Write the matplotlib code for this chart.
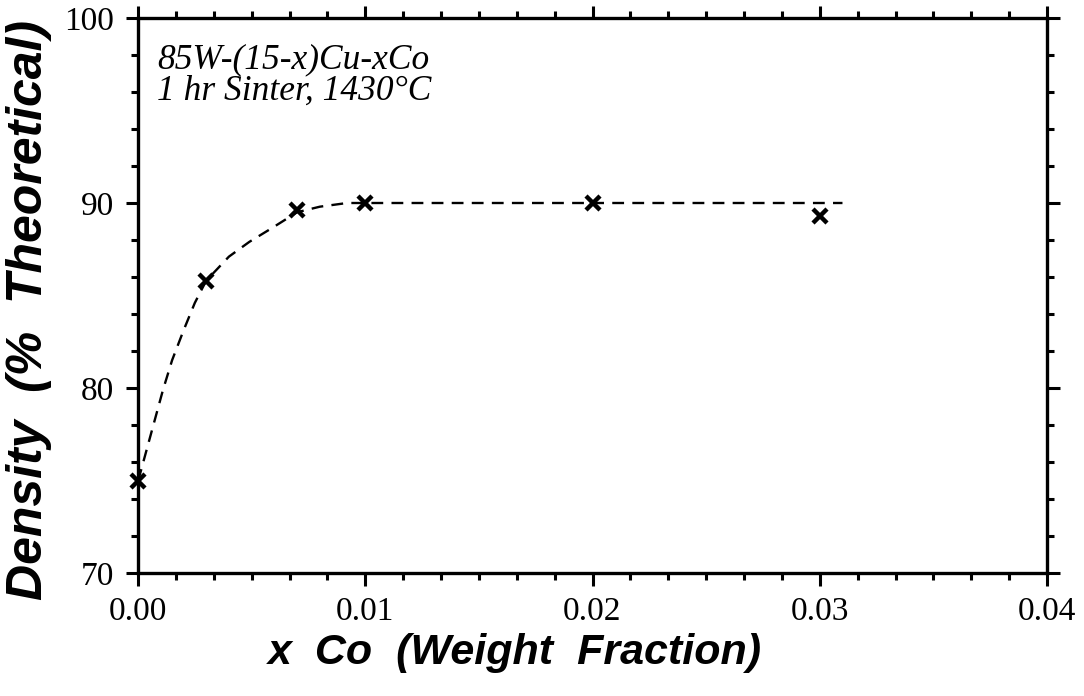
import matplotlib
matplotlib.use('Agg')
from matplotlib import pyplot as plt
from matplotlib.ticker import MultipleLocator
import numpy as np

# measured points
co_frac = [0.0, 0.003, 0.007, 0.010, 0.020, 0.030]
density = [75.0, 85.8, 89.6, 90.0, 90.0, 89.3]

# dashed guide curve
curve_x = [0.0, 0.0001, 0.0005, 0.0011, 0.0015, 0.0020, 0.0025, 0.0030, 0.0040,
           0.0049, 0.0059, 0.0070, 0.0080, 0.0092, 0.0100, 0.0200, 0.0310]
curve_y = [75.0, 75.4, 77.2, 79.9, 81.5, 83.1, 84.6, 85.8, 87.1,
           87.9, 88.65, 89.5, 89.8, 90.0, 90.0, 90.0, 90.0]

xticks = [0.0, 0.01, 0.02, 0.03, 0.04]
xticklabels = ['0.00', '0.01', '0.02', '0.03', '0.04']
yticks = [70, 80, 90, 100]

serif = ['Liberation Serif', 'DejaVu Serif']
sans = ['Liberation Sans', 'DejaVu Sans']

fig = plt.figure(figsize=(10.84, 6.96), dpi=100)
ax = fig.add_axes([138 / 1084, 1 - 573 / 696, (1047 - 138) / 1084, (573 - 18) / 696])

ax.plot(curve_x, curve_y, color='black', linestyle=(0, (5, 3.5)), linewidth=1.7)
ax.plot(co_frac, density, linestyle='none', marker='x', color='black',
        markersize=10.5, markeredgewidth=3.2, clip_on=False)

ax.set_xlim(0, 0.04)
ax.set_ylim(70, 100)
ax.set_xticks(xticks)
ax.set_xticklabels(xticklabels, family=serif, fontsize=24)
ax.set_yticks(yticks)
ax.set_yticklabels([str(v) for v in yticks], family=serif, fontsize=24)
ax.xaxis.set_minor_locator(MultipleLocator(0.01 / 6))
ax.yaxis.set_minor_locator(MultipleLocator(2))

ax.tick_params(which='both', direction='out', top=True, right=True,
               labeltop=False, labelright=False, width=2.2, color='black')
ax.tick_params(which='major', length=9, pad=8)
ax.tick_params(which='minor', length=5)
for s in ax.spines.values():
    s.set_linewidth(2.4)

ax.set_xlabel('x  Co  (Weight  Fraction)', family=sans, fontsize=31,
              fontweight='bold', fontstyle='italic')
ax.xaxis.set_label_coords((515 - 138) / 909, -0.108)
ax.set_ylabel('Density  (%  Theoretical)', family=sans, fontsize=36,
              fontweight='bold', fontstyle='italic')
ax.yaxis.set_label_coords(-0.0946, 0.474)

ax.text(0.021, 0.955, '85W-(15-x)Cu-xCo\n1 hr Sinter, 1430\u00b0C',
        transform=ax.transAxes, ha='left', va='top', family=serif,
        fontstyle='italic', fontsize=25.5, linespacing=0.95)

fig.savefig('out.png', dpi=100)
